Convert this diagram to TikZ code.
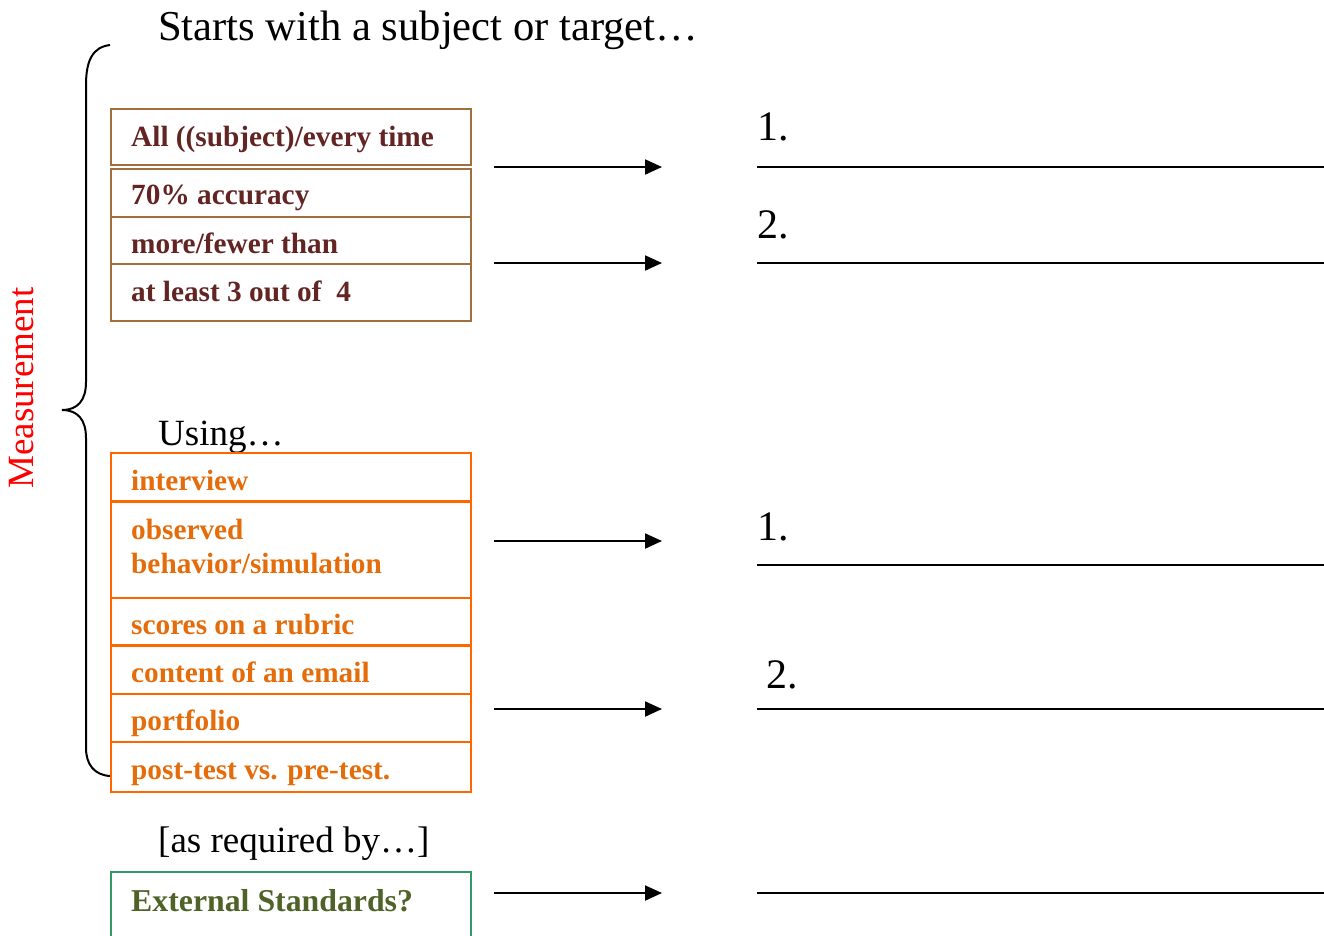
\documentclass[tikz,border=0pt]{standalone}
\usepackage{fontspec}
\setmainfont{Liberation Serif}
\usetikzlibrary{arrows.meta}
\definecolor{brownedge}{HTML}{A0703C}
\definecolor{brownink}{HTML}{632523}
\definecolor{orangeedge}{HTML}{FF6600}
\definecolor{orangeink}{HTML}{E46C0A}
\definecolor{greenedge}{HTML}{339966}
\definecolor{greenink}{HTML}{4F6228}
\begin{document}
\begin{tikzpicture}[x=1pt,y=-1pt,
    brownrow/.style={draw=brownedge,line width=2pt,anchor=north west,minimum width=360pt,inner sep=0pt},
    orangerow/.style={draw=orangeedge,line width=2pt,anchor=north west,minimum width=360pt,inner sep=0pt},
    greenrow/.style={draw=greenedge,line width=2pt,anchor=north west,minimum width=360pt,inner sep=0pt},
    rowtext/.style={anchor=base west,inner sep=0pt,font=\fontsize{29.3}{34}\selectfont\bfseries},
    heading/.style={anchor=base west,inner sep=0pt,font=\fontsize{37}{44}\selectfont},
    number/.style={anchor=base west,inner sep=0pt,font=\fontsize{42}{50}\selectfont},
    arrow/.style={line width=2pt,-{Triangle[length=17pt,width=15pt]}},
    blankline/.style={line width=2pt}]
    \useasboundingbox (0,0) rectangle (1324,935);
    % headings
    \node[anchor=base west,inner sep=0pt,font=\fontsize{42.6}{50}\selectfont] (start) at (158,40) {Starts with a subject or target…};
    \node[heading] (using) at (158,445) {Using…};
    \node[heading] (req) at (158,852) {[as required by…]};
    \node[rotate=90,text=red,inner sep=0pt,font=\fontsize{37}{44}\selectfont] (meas) at (22,388) {Measurement};
    % brace
    \draw [line width=2pt] (110,45) .. controls (93,47) and (86,60) .. (86,85) -- (86,382)
        .. controls (86,400) and (78,410) .. (62,410) .. controls (78,410) and (86,420) .. (86,438)
        -- (86,748) .. controls (86,764) and (94,775) .. (110,776);
    % subject / target
    \node[brownrow,minimum height=56pt] (all) at (110,108) {};
    \node[brownrow,minimum height=48pt] (pct) at (110,168) {};
    \node[brownrow,minimum height=47pt] (more) at (110,216) {};
    \node[brownrow,minimum height=57pt] (least) at (110,263) {};
    \node[rowtext,text=brownink] (allt) at (131,146) {All ((subject)/every time};
    \node[rowtext,text=brownink] (pctt) at (131,204) {70\% accuracy};
    \node[rowtext,text=brownink] (moret) at (131,253) {more/fewer than};
    \node[rowtext,text=brownink] (leastt) at (131,301) {at least 3 out of~ 4};
    % using
    \node[orangerow,minimum height=48pt] (intv) at (110,452) {};
    \node[orangerow,minimum height=96pt] (obs) at (110,501) {};
    \node[orangerow,minimum height=47pt] (rubric) at (110,597) {};
    \node[orangerow,minimum height=48pt] (email) at (110,645) {};
    \node[orangerow,minimum height=48pt] (port) at (110,693) {};
    \node[orangerow,minimum height=50pt] (post) at (110,741) {};
    \node[rowtext,text=orangeink] (intvt) at (131,490) {interview};
    \node[rowtext,text=orangeink] (obst) at (131,539) {observed};
    \node[rowtext,text=orangeink] (behv) at (131,573) {behavior/simulation};
    \node[rowtext,text=orangeink] (rubrict) at (131,634) {scores on a rubric};
    \node[rowtext,text=orangeink] (emailt) at (131,682) {content of an email};
    \node[rowtext,text=orangeink] (portt) at (131,730) {portfolio};
    \node[rowtext,text=orangeink] (postt) at (131,779) {post-test vs. pre-test.};
    % required by
    \node[greenrow,minimum height=90pt] (ext) at (110,871) {};
    \node[rowtext,text=greenink,font=\fontsize{31.8}{37}\selectfont\bfseries] (extt) at (131,911) {External Standards?};
    % arrows
    \foreach \y/\n in {167/a,263/b,541/c,709/d,893/e}{
        \coordinate (from\n) at (494,\y);
        \coordinate (to\n) at (662,\y);
        \draw [arrow] (from\n) -- (to\n);
    }
    % answer lines
    \foreach \y/\n in {167/a,263/b,565/c,709/d,893/e}{
        \coordinate (left\n) at (757,\y);
        \coordinate (right\n) at (1324,\y);
        \draw [blankline] (left\n) -- (right\n);
    }
    \node[number] (one) at (757,140) {1.};
    \node[number] (two) at (757,238) {2.};
    \node[number] (onec) at (757,540) {1.};
    \node[number] (twoc) at (766,688) {2.};
\end{tikzpicture}
\end{document}
